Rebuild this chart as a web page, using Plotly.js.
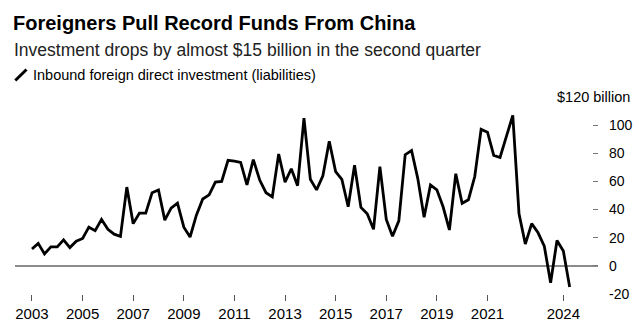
<!DOCTYPE html>
<html>
<head>
<meta charset="utf-8">
<script src="https://cdn.plot.ly/plotly-3.0.1.min.js"></script>
<style>html,body{margin:0;padding:0;background:#fff;}#chart{width:639px;height:330px;}</style>
</head>
<body>
<div id="chart"></div>
<script>
// Quarterly inbound FDI (liabilities), $ billion, 2003 Q1 .. 2024 Q2
const startYear = 2003;
const fdiValues = [
  12, 16, 8.5, 13.5, 13.5, 18.5, 13, 17.5, 19.5, 27.5, 25, 33, 26, 22.5, 21, 56,
  30, 37.5, 37.5, 52, 54, 32.5, 41, 44.5, 27.5, 20.5, 36, 47.5, 50.5, 59.5, 60, 75,
  74.5, 73.5, 57.5, 75.5, 61, 52, 49, 79.5, 59.5, 69, 57, 105, 61.5, 54, 64, 88.5,
  67, 61.5, 42, 71.5, 41.5, 37, 26, 70.5, 33, 21, 32, 79, 82, 62, 34.5, 57.5,
  54, 42, 25.5, 65.5, 44.5, 47, 63.5, 97, 95, 78.5, 77, 92, 107, 37, 15.5, 30,
  23.5, 14, -12, 18, 10.5, -15
];
const xTickYears = ['2003','2005','2007','2009','2011','2013','2015','2017','2019','2021','2024'];
const yTickValues = [-20, 0, 20, 40, 60, 80, 100];

// quarter start dates
const quarterDates = fdiValues.map((v, i) => {
  const y = startYear + Math.floor(i / 4);
  const m = (i % 4) * 3 + 1;
  return y + '-' + String(m).padStart(2, '0') + '-01';
});

const FONT = 'Liberation Sans, Arial, Helvetica, sans-serif';

const trace = {
  x: quarterDates,
  y: fdiValues,
  type: 'scatter',
  mode: 'lines',
  line: {color: '#000000', width: 2.8},
  hoverinfo: 'x+y',
  showlegend: false
};

const layout = {
  width: 639,
  height: 330,
  margin: {l: 15, r: 41, t: 97, b: 36},
  paper_bgcolor: '#ffffff',
  plot_bgcolor: '#ffffff',
  font: {family: FONT, color: '#000', size: 14},
  title: {
    text: '<b>Foreigners Pull Record Funds From China</b>',
    font: {family: FONT, size: 20, color: '#000'},
    xref: 'container', yref: 'container',
    x: 13 / 639, xanchor: 'left',
    y: 1 - 23 / 330, yanchor: 'middle'
  },
  xaxis: {
    type: 'date',
    range: ['2002-05-01', '2025-05-15'],
    tickvals: xTickYears.map(y => y + '-01-01'),
    ticktext: xTickYears,
    ticks: 'outside',
    ticklen: 6,
    tickwidth: 1,
    tickcolor: '#555',
    showgrid: false,
    showline: false,
    zeroline: false,
    tickfont: {family: FONT, size: 15, color: '#000'}
  },
  yaxis: {
    side: 'right',
    range: [-20, 120],
    tickvals: yTickValues,
    ticktext: yTickValues.map(String),
    ticks: 'inside',
    ticklen: 5,
    tickwidth: 1,
    tickcolor: '#777',
    ticklabelstandoff: 10,
    showgrid: false,
    showline: false,
    zeroline: true,
    zerolinecolor: '#8c8c8c',
    zerolinewidth: 1.5,
    tickfont: {family: FONT, size: 14, color: '#000'}
  },
  shapes: [
    {type: 'line', xref: 'paper', yref: 'paper',
     x0: 0.0005, y0: (294 - 80.5) / 197, x1: (26.5 - 15) / 583, y1: (294 - 69.5) / 197,
     line: {color: '#000', width: 3}}
  ],
  annotations: [
    {text: 'Investment drops by almost $15 billion in the second quarter',
     xref: 'paper', yref: 'paper', x: (12 - 15) / 583, y: (294 - 50) / 197,
     xanchor: 'left', yanchor: 'middle', showarrow: false,
     font: {family: FONT, size: 17.5, color: '#222'}},
    {text: 'Inbound foreign direct investment (liabilities)',
     xref: 'paper', yref: 'paper', x: (31 - 15) / 583, y: (294 - 74.5) / 197,
     xanchor: 'left', yanchor: 'middle', showarrow: false,
     font: {family: FONT, size: 14.5, color: '#000'}},
    {text: '$120 billion',
     xref: 'paper', yref: 'y', x: 1, y: 120, xshift: 34,
     xanchor: 'right', yanchor: 'middle', showarrow: false,
     font: {family: FONT, size: 14.5, color: '#000'}}
  ]
};

Plotly.newPlot('chart', [trace], layout, {displayModeBar: false, staticPlot: true});
</script>
</body>
</html>
